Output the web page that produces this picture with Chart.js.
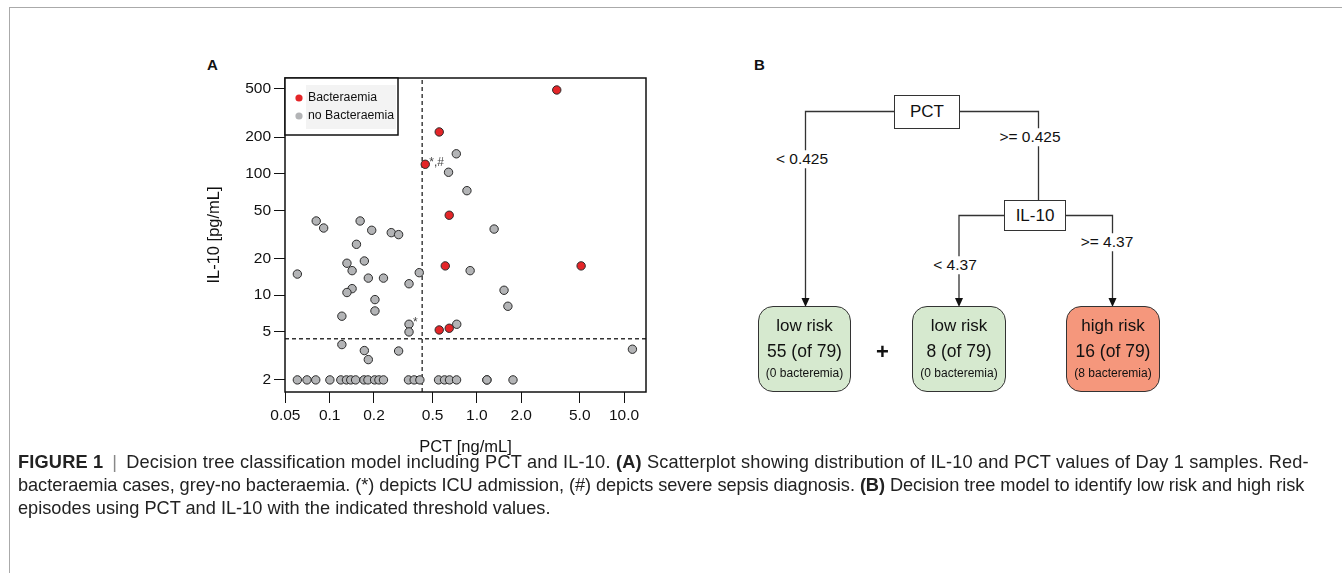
<!DOCTYPE html>
<html lang="en">
<head>
  <meta charset="UTF-8" />
  <title>Figure 1 - PCT and IL-10 decision tree</title>
  <script src="https://cdn.jsdelivr.net/npm/chart.js"></script>
  <style>
    html, body { margin: 0; padding: 0; background: #fff; }
    body { width: 1342px; height: 573px; position: relative; overflow: hidden;
           font-family: "Liberation Sans", Arial, sans-serif; color: #111; }
    .frame-top { position: absolute; left: 9px; top: 7px; right: 0; border-top: 1px solid #aaa; }
    .frame-left { position: absolute; left: 9px; top: 7px; bottom: 0; border-left: 1px solid #aaa; }
    .panel { position: absolute; font-weight: bold; font-size: 15px; }
    #scatterA { position: absolute; left: 170px; top: 50px; }
    svg { position: absolute; left: 0; top: 0; }
    .lbl { position: absolute; transform: translate(-50%, -50%); background: #fff;
           font-size: 15.5px; white-space: nowrap; padding: 1px 2px; line-height: 1; }
    .node { position: absolute; border: 1.3px solid #333; background: #fff; font-size: 17px;
            display: flex; align-items: center; justify-content: center; box-sizing: border-box; }
    .leaf { position: absolute; border: 1.3px solid #333; border-radius: 15px; box-sizing: border-box;
            text-align: center; }
    .leaf .a { position: absolute; left: 0; right: 0; top: 9px; font-size: 17px; }
    .leaf .b { position: absolute; left: 0; right: 0; top: 34px; font-size: 17.5px; }
    .leaf .c { position: absolute; left: 0; right: 0; top: 59px; font-size: 12px; }
    .plus { position: absolute; left: 876px; top: 339px; font-size: 22px; font-weight: bold; }
    .caption { position: absolute; left: 18px; font-size: 18.2px; line-height: 23px; color: #222; white-space: nowrap; }
    .caption .sep { color: #888; margin: 0 9px; }
  </style>
</head>
<body>
  <div class="frame-top"></div>
  <div class="frame-left"></div>

  <div class="panel" style="left:207px; top:56px;">A</div>
  <div class="panel" style="left:754px; top:56px;">B</div>

  <canvas id="scatterA" width="500" height="420"></canvas>

  <!-- Decision tree (panel B) -->
  <svg width="1342" height="573">
    <g fill="none" stroke="#333" stroke-width="1.3">
      <path d="M894 111.5 H805.5 V300" />
      <path d="M959.5 111.5 H1038.5 V200" />
      <path d="M1004.5 215.5 H959 V300" />
      <path d="M1065.5 215.5 H1112.5 V300" />
    </g>
    <g fill="#111">
      <path d="M801.5 298 L809.5 298 L805.5 307 Z" />
      <path d="M955 298 L963 298 L959 307 Z" />
      <path d="M1108.5 298 L1116.5 298 L1112.5 307 Z" />
    </g>
  </svg>
  <div class="node" style="left:894px; top:95px; width:66px; height:34px;">PCT</div>
  <div class="node" style="left:1004px; top:200px; width:62px; height:31px;">IL-10</div>
  <div class="lbl" style="left:802px; top:159px;">&lt; 0.425</div>
  <div class="lbl" style="left:1030px; top:137px;">&gt;= 0.425</div>
  <div class="lbl" style="left:955px; top:265px;">&lt; 4.37</div>
  <div class="lbl" style="left:1107px; top:242px;">&gt;= 4.37</div>

  <div class="leaf" style="left:758px; top:306px; width:93px; height:86px; background:#d6e9cf;">
    <div class="a">low risk</div><div class="b">55 (of 79)</div><div class="c">(0 bacteremia)</div>
  </div>
  <div class="plus">+</div>
  <div class="leaf" style="left:912px; top:306px; width:94px; height:86px; background:#d6e9cf;">
    <div class="a">low risk</div><div class="b">8 (of 79)</div><div class="c">(0 bacteremia)</div>
  </div>
  <div class="leaf" style="left:1066px; top:306px; width:94px; height:86px; background:#f5977c;">
    <div class="a">high risk</div><div class="b">16 (of 79)</div><div class="c">(8 bacteremia)</div>
  </div>

  <div class="caption" style="top:451px; letter-spacing:0.18px;"><b>FIGURE 1</b><span class="sep">|</span>Decision tree classification model including PCT and IL-10. <b>(A)</b> Scatterplot showing distribution of IL-10 and PCT values of Day 1 samples. Red-</div>
  <div class="caption" style="top:474px; letter-spacing:-0.06px;">bacteraemia cases, grey-no bacteraemia. (*) depicts ICU admission, (#) depicts severe sepsis diagnosis. <b>(B)</b> Decision tree model to identify low risk and high risk</div>
  <div class="caption" style="top:497px;">episodes using PCT and IL-10 with the indicated threshold values.</div>

  <script>
    const redPct   = [0.555, 0.446, 0.649, 3.49, 0.61, 0.555, 0.649, 5.11];
    const redIl10  = [221, 119.6, 45.5, 490, 17.4, 5.16, 5.33, 17.4];

    const greyPct  = [0.725, 0.642, 0.856, 1.31, 0.081, 0.091, 0.161, 0.193, 0.262, 0.294,
                      0.152, 0.0603, 0.131, 0.142, 0.172, 0.183, 0.232, 0.346, 0.406, 0.142,
                      0.131, 0.203, 0.203, 0.121, 0.346, 0.346, 0.121, 0.172, 0.183, 0.294,
                      0.73, 0.90, 1.53, 1.625, 11.4,
                      0.0603, 0.0701, 0.0804, 0.1003, 0.119, 0.130, 0.139, 0.150, 0.171, 0.182,
                      0.202, 0.216, 0.232, 0.343, 0.375, 0.410, 0.549, 0.603, 0.652, 0.728,
                      1.17, 1.17, 1.76];
    const greyIl10 = [146, 102.8, 72.5, 35, 40.8, 35.7, 40.8, 34.2, 32.7, 31.5,
                      26.2, 14.9, 18.3, 15.9, 19.1, 13.8, 13.8, 12.4, 15.3, 11.3,
                      10.5, 9.18, 7.4, 6.7, 5.75, 4.97, 3.91, 3.49, 2.94, 3.46,
                      5.75, 15.9, 10.96, 8.09, 3.58,
                      2, 2, 2, 2, 2, 2, 2, 2, 2, 2,
                      2, 2, 2, 2, 2, 2, 2, 2, 2, 2,
                      2, 2, 2];

    // decision tree thresholds
    const pctCut = 0.425;
    const il10Cut = 4.37;

    const xTicks = [0.05, 0.1, 0.2, 0.5, 1, 2, 5, 10];
    const xTickLabels = ['0.05', '0.1', '0.2', '0.5', '1.0', '2.0', '5.0', '10.0'];
    const yTicks = [2, 5, 10, 20, 50, 100, 200, 500];
    const yTickLabels = ['2', '5', '10', '20', '50', '100', '200', '500'];

    const xRange = [0.0497, 14.1];
    const yRange = [1.59, 615];

    // marks: * ICU admission, # severe sepsis
    const notes = [
      { set: 'red', idx: 1, text: '*,#' },
      { set: 'grey', idx: 24, text: '*' }
    ];

    const toPoints = (xs, ys) => xs.map((x, i) => ({ x: x, y: ys[i] }));
    const redPts = toPoints(redPct, redIl10);
    const greyPts = toPoints(greyPct, greyIl10);

    const font = "'Liberation Sans', Arial, sans-serif";

    // box round the plot, legend and the */# marks
    const extrasPlugin = {
      id: 'extras',
      afterDraw(chart) {
        const ctx = chart.ctx;
        const a = chart.chartArea;
        const xs = chart.scales.x, ys = chart.scales.y;
        ctx.save();
        ctx.strokeStyle = '#111';
        ctx.lineWidth = 1.5;
        ctx.strokeRect(a.left, a.top, a.right - a.left, a.bottom - a.top);

        // legend
        const lx = a.left, ly = a.top;
        ctx.fillStyle = '#fff';
        ctx.fillRect(lx, ly, 113, 57);
        ctx.fillStyle = '#f3f3f3';
        ctx.fillRect(lx + 21, ly + 7, 90, 44);
        ctx.strokeRect(lx, ly, 113, 57);
        const items = [
          { label: chart.data.datasets[0].label, color: chart.data.datasets[0].backgroundColor },
          { label: chart.data.datasets[1].label, color: chart.data.datasets[1].backgroundColor }
        ];
        ctx.font = '12.3px ' + font;
        ctx.textBaseline = 'middle';
        items.forEach((it, i) => {
          const cy = ly + 20 + i * 18;
          ctx.beginPath();
          ctx.arc(lx + 14, cy, 3.6, 0, Math.PI * 2);
          ctx.fillStyle = it.color;
          ctx.fill();
          ctx.fillStyle = '#111';
          ctx.fillText(it.label, lx + 23, cy);
        });

        // notes
        ctx.font = '12px ' + font;
        ctx.fillStyle = '#444';
        ctx.textBaseline = 'middle';
        notes.forEach(n => {
          const p = (n.set === 'red' ? redPts : greyPts)[n.idx];
          ctx.fillText(n.text, xs.getPixelForValue(p.x) + 4, ys.getPixelForValue(p.y) - 2);
        });
        ctx.restore();
      }
    };

    const axisCommon = {
      type: 'logarithmic',
      border: { display: false },
      grid: { display: true, drawOnChartArea: false, drawTicks: true, tickLength: 11,
              tickColor: '#111', lineWidth: 1 },
      ticks: { color: '#111', font: { family: font, size: 15.5 }, padding: 3,
               autoSkip: false, maxRotation: 0 }
    };

    new Chart(document.getElementById('scatterA'), {
      type: 'scatter',
      data: {
        datasets: [
          { label: 'Bacteraemia', data: redPts, backgroundColor: '#e42528', borderColor: '#2a2a2a',
            borderWidth: 1, pointRadius: 4.2, order: 0 },
          { label: 'no Bacteraemia', data: greyPts, backgroundColor: '#b3b4b6', borderColor: '#2a2a2a',
            borderWidth: 1, pointRadius: 4.2, order: 1 },
          { type: 'line', label: 'PCT cut', data: [{ x: pctCut, y: yRange[0] }, { x: pctCut, y: yRange[1] }],
            borderColor: '#333', borderWidth: 1.4, borderDash: [4, 3], pointRadius: 0, order: 2 },
          { type: 'line', label: 'IL-10 cut', data: [{ x: xRange[0], y: il10Cut }, { x: xRange[1], y: il10Cut }],
            borderColor: '#333', borderWidth: 1.4, borderDash: [4, 3], pointRadius: 0, order: 2 }
        ]
      },
      options: {
        responsive: false,
        animation: false,
        layout: { padding: { top: 28, right: 24, left: 0, bottom: 0 } },
        plugins: { legend: { display: false }, tooltip: { enabled: false } },
        scales: {
          x: Object.assign({}, axisCommon, {
            position: 'bottom',
            min: xRange[0], max: xRange[1],
            afterBuildTicks: s => { s.ticks = xTicks.map(v => ({ value: v })); },
            afterFit: s => { s.height = 78; },
            ticks: Object.assign({}, axisCommon.ticks, { callback: (v, i) => xTickLabels[i] }),
            title: { display: true, text: 'PCT [ng/mL]', color: '#111',
                     font: { family: font, size: 16.5 }, padding: { top: 0, bottom: 13 } }
          }),
          y: Object.assign({}, axisCommon, {
            position: 'left',
            min: yRange[0], max: yRange[1],
            afterBuildTicks: s => { s.ticks = yTicks.map(v => ({ value: v })); },
            afterFit: s => { s.width = 115; },
            ticks: Object.assign({}, axisCommon.ticks, { callback: (v, i) => yTickLabels[i] }),
            title: { display: true, text: 'IL-10 [pg/mL]', color: '#111',
                     font: { family: font, size: 16.5 }, padding: { top: 35, bottom: 0 } }
          })
        }
      },
      plugins: [extrasPlugin]
    });
  </script>
</body>
</html>
